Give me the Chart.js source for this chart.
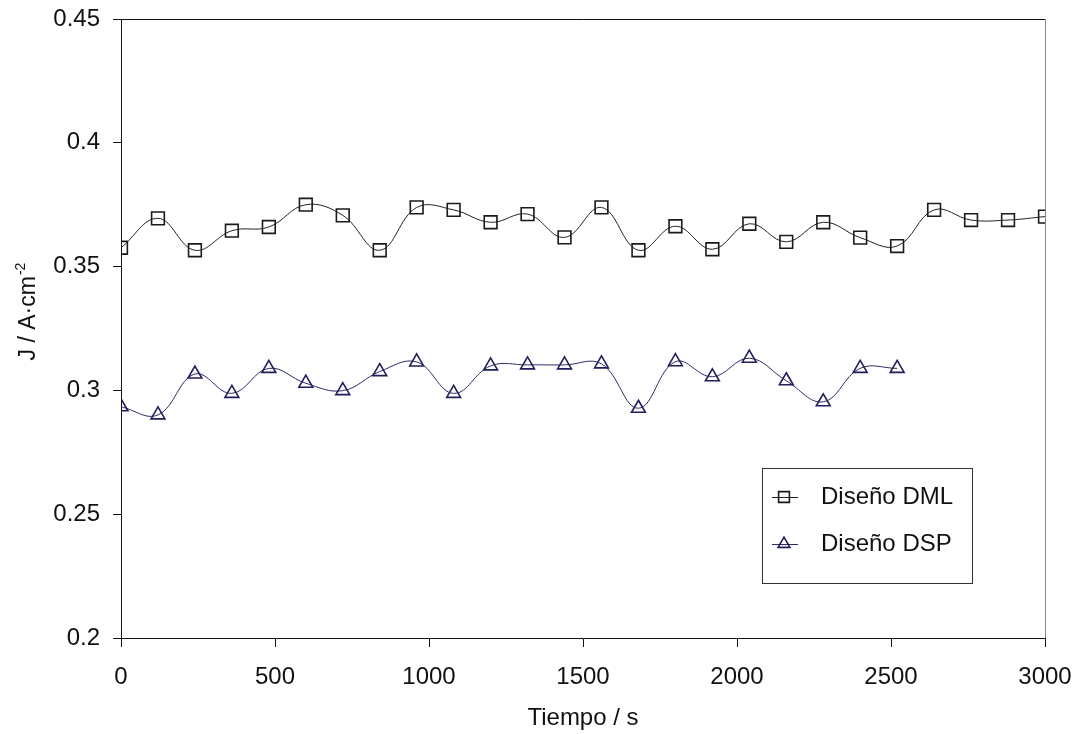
<!DOCTYPE html>
<html>
<head>
<meta charset="utf-8">
<script src="https://cdn.jsdelivr.net/npm/chart.js@4.4.1/dist/chart.umd.min.js"></script>
<style>
  html, body { margin: 0; padding: 0; background: #fff; }
  #wrap { width: 1076px; height: 734px; position: relative; }
</style>
</head>
<body>
<div id="wrap"><canvas id="myChart" width="1076" height="734"></canvas></div>
<script>
// tiempo (s) cada 120 s
var tiempoDML = [0, 120, 240, 360, 480, 600, 720, 840, 960, 1080, 1200, 1320, 1440,
    1560, 1680, 1800, 1920, 2040, 2160, 2280, 2400, 2520, 2640, 2760, 2880, 3000];
var jDML = [0.3576, 0.3695, 0.3566, 0.3645, 0.366, 0.375, 0.3707, 0.3566, 0.3739, 0.3729,
    0.3679, 0.3712, 0.3618, 0.3739, 0.3566, 0.3663, 0.357, 0.3673, 0.360, 0.3679,
    0.3617, 0.3583, 0.3729, 0.3688, 0.3688, 0.3702];

var tiempoDSP = [0, 120, 240, 360, 480, 600, 720, 840, 960, 1080, 1200, 1320, 1440,
    1560, 1680, 1800, 1920, 2040, 2160, 2280, 2400, 2520];
var jDSP = [0.2934, 0.2901, 0.3066, 0.2988, 0.3089, 0.3029, 0.2999, 0.3076, 0.3115, 0.2988,
    0.3099, 0.3103, 0.3103, 0.3107, 0.2928, 0.3116, 0.3055, 0.313, 0.3039, 0.2954,
    0.3089, 0.3089];

var xTicks = [0, 500, 1000, 1500, 2000, 2500, 3000];
var xTickLabels = ['0', '500', '1000', '1500', '2000', '2500', '3000'];
var yTicks = [0.2, 0.25, 0.3, 0.35, 0.4, 0.45];
var yTickLabels = ['0.2', '0.25', '0.3', '0.35', '0.4', '0.45'];

var tituloY = 'J / A·cm';
var tituloYExp = '-2';

function pares(xs, ys) {
    return xs.map(function (x, i) { return { x: x, y: ys[i] }; });
}

var fuente = "'Liberation Sans', Arial, sans-serif";

// marco, titulo Y y leyenda dentro del grafico
var marcoPlugin = {
    id: 'marco',
    afterDatasetsDraw: function (chart) {
        var ctx = chart.ctx;
        var a = chart.chartArea;
        ctx.save();
        ctx.strokeStyle = '#111';
        ctx.lineWidth = 1;
        ctx.beginPath();
        ctx.moveTo(a.left, a.top + 0.5);
        ctx.lineTo(a.right + 0.5, a.top + 0.5);
        ctx.stroke();
        ctx.strokeStyle = '#888';
        ctx.beginPath();
        ctx.moveTo(a.right + 0.5, a.top);
        ctx.lineTo(a.right + 0.5, a.bottom);
        ctx.stroke();

        // titulo eje Y con superindice
        ctx.fillStyle = '#111';
        ctx.textBaseline = 'alphabetic';
        ctx.textAlign = 'left';
        ctx.font = '23px ' + fuente;
        var w1 = ctx.measureText(tituloY).width;
        ctx.font = '14px ' + fuente;
        var w2 = ctx.measureText(tituloYExp).width;
        ctx.translate(35, 312);
        ctx.rotate(-Math.PI / 2);
        var x0 = -(w1 + w2) / 2;
        ctx.font = '23px ' + fuente;
        ctx.fillText(tituloY, x0, 0);
        ctx.font = '14px ' + fuente;
        ctx.fillText(tituloYExp, x0 + w1 + 1, -10);
        ctx.setTransform(1, 0, 0, 1, 0, 0);

        // leyenda
        ctx.strokeStyle = '#333';
        ctx.lineWidth = 1;
        ctx.strokeRect(762.5, 468.5, 210, 115);
        var filas = [497, 544];
        chart.data.datasets.forEach(function (ds, i) {
            var y = filas[i];
            ctx.strokeStyle = ds.borderColor;
            ctx.lineWidth = 1;
            ctx.beginPath();
            ctx.moveTo(772, y + 0.5);
            ctx.lineTo(798, y + 0.5);
            ctx.stroke();
            ctx.fillStyle = 'rgba(0,0,0,0)';
            ctx.strokeStyle = ds.pointBorderColor;
            ctx.lineWidth = ds.pointBorderWidth;
            Chart.helpers.drawPoint(ctx, {
                pointStyle: ds.pointStyle, radius: ds.pointRadius * 0.85,
                rotation: 0, borderWidth: ds.pointBorderWidth
            }, 784, y);
            ctx.fillStyle = '#111';
            ctx.font = '24px ' + fuente;
            ctx.textBaseline = 'middle';
            ctx.fillText(ds.label, 821, y);
        });
        ctx.restore();
    }
};

var ctx = document.getElementById('myChart').getContext('2d');
var myChart = new Chart(ctx, {
    type: 'line',
    data: {
        datasets: [
            {
                label: 'Diseño DML',
                data: pares(tiempoDML, jDML),
                borderColor: '#222222',
                borderWidth: 1,
                tension: 0.4,
                pointStyle: 'rect',
                pointRadius: 9,
                pointBorderWidth: 1.6,
                pointBorderColor: '#1a1a1a',
                pointBackgroundColor: 'rgba(0,0,0,0)',
                fill: false
            },
            {
                label: 'Diseño DSP',
                data: pares(tiempoDSP, jDSP),
                borderColor: '#2b2b66',
                borderWidth: 1,
                tension: 0.4,
                pointStyle: 'triangle',
                pointRadius: 8,
                pointBorderWidth: 1.6,
                pointBorderColor: '#1f1f5c',
                pointBackgroundColor: 'rgba(0,0,0,0)',
                fill: false
            }
        ]
    },
    options: {
        responsive: false,
        animation: false,
        devicePixelRatio: 1,
        layout: { padding: { top: 19, right: 31, left: 0, bottom: 0 } },
        plugins: {
            legend: { display: false },
            tooltip: { enabled: false }
        },
        scales: {
            x: {
                type: 'linear',
                min: 0,
                max: 3000,
                afterBuildTicks: function (s) { s.ticks = xTicks.map(function (v) { return { value: v }; }); },
                afterFit: function (s) { s.height = 96; s.paddingLeft = 0; s.paddingRight = 0; },
                grid: { display: true, drawOnChartArea: false, drawTicks: true, tickLength: 9, tickColor: '#111', color: '#111' },
                border: { color: '#111', width: 1 },
                ticks: {
                    color: '#111', font: { family: fuente, size: 24 }, padding: 16, maxRotation: 0,
                    callback: function (v) { return xTickLabels[xTicks.indexOf(v)]; }
                },
                title: {
                    display: true, text: 'Tiempo / s', color: '#111',
                    font: { family: fuente, size: 24 }, padding: { top: 0, bottom: 1 }
                }
            },
            y: {
                type: 'linear',
                min: 0.2,
                max: 0.45,
                afterBuildTicks: function (s) { s.ticks = yTicks.map(function (v) { return { value: v }; }); },
                afterFit: function (s) { s.width = 121; s.paddingTop = 0; s.paddingBottom = 0; },
                grid: { display: true, drawOnChartArea: false, drawTicks: true, tickLength: 8, tickColor: '#111', color: '#111' },
                border: { color: '#111', width: 1 },
                ticks: {
                    color: '#111', font: { family: fuente, size: 24 }, padding: 13,
                    callback: function (v) { return yTickLabels[yTicks.indexOf(+v.toFixed(2))]; }
                },
                title: { display: false }
            }
        }
    },
    plugins: [marcoPlugin]
});
</script>
</body>
</html>
